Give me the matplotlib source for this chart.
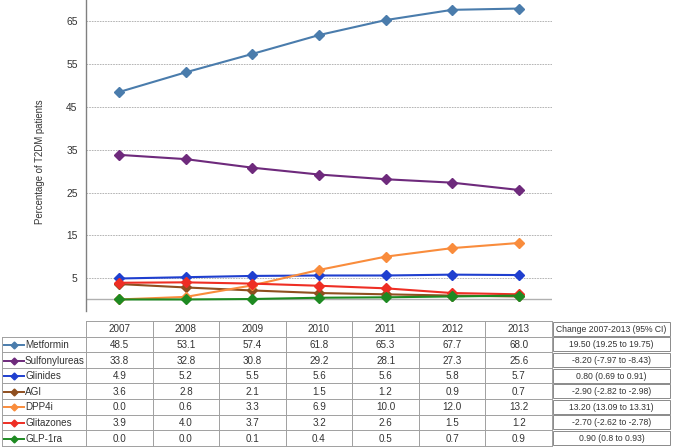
import numpy as np
import matplotlib.pyplot as plt

plt.rcParams['font.family'] = ['Liberation Sans', 'DejaVu Sans']

# ----------------------------
# Data
# ----------------------------
years = ["2007", "2008", "2009", "2010", "2011", "2012", "2013"]
drugs = ["Metformin", "Sulfonylureas", "Glinides", "AGI", "DPP4i", "Glitazones", "GLP-1ra"]

metformin = [48.5, 53.1, 57.4, 61.8, 65.3, 67.7, 68.0]
sulfonylureas = [33.8, 32.8, 30.8, 29.2, 28.1, 27.3, 25.6]
glinides = [4.9, 5.2, 5.5, 5.6, 5.6, 5.8, 5.7]
agi = [3.6, 2.8, 2.1, 1.5, 1.2, 0.9, 0.7]
dpp4i = [0.0, 0.6, 3.3, 6.9, 10.0, 12.0, 13.2]
glitazones = [3.9, 4.0, 3.7, 3.2, 2.6, 1.5, 1.2]
glp1ra = [0.0, 0.0, 0.1, 0.4, 0.5, 0.7, 0.9]

changes = ["19.50 (19.25 to 19.75)", "-8.20 (-7.97 to -8.43)", "0.80 (0.69 to 0.91)",
           "-2.90 (-2.82 to -2.98)", "13.20 (13.09 to 13.31)", "-2.70 (-2.62 to -2.78)",
           "0.90 (0.8 to 0.93)"]
change_header = "Change 2007-2013 (95% CI)"

yticks = [5, 15, 25, 35, 45, 55, 65]

series = [metformin, sulfonylureas, glinides, agi, dpp4i, glitazones, glp1ra]
colors = ["#4a7cac", "#6e2a7c", "#1f3fcf", "#8f4f1f", "#f98c3c", "#ee2e24", "#1e8a22"]

W, H = 677, 447

# ----------------------------
# Plot
# ----------------------------
fig = plt.figure(figsize=(W / 100, H / 100), dpi=100)

left, right, top, bottom = 86, 552, 0, 311
ax = fig.add_axes([left / W, 1 - bottom / H, (right - left) / W, (bottom - top) / H])

x = np.arange(len(years))
for vals, c in zip(series, colors):
    ax.plot(x, vals, color=c, lw=1.5, marker="D", ms=5.5, mec=c, zorder=3)

ax.set_xlim(-0.5, len(years) - 0.5)
ax.set_ylim(-2.7, 70)
ax.set_yticks(yticks)
ax.set_yticklabels([str(t) for t in yticks], fontsize=7.4, color="#333333")
ax.tick_params(axis="y", length=0, pad=6)
ax.set_xticks([])
for t in yticks:
    ax.axhline(t, color="#a8a8a8", lw=0.6, ls=(0, (2, 1.2)), zorder=1)
ax.axhline(0, color="#b0b0b0", lw=1.0, zorder=1)
for s in ["top", "right", "bottom"]:
    ax.spines[s].set_visible(False)
ax.spines["left"].set_color("#808080")
ax.spines["left"].set_linewidth(1.0)

fig.text(40 / W, 1 - 162 / H, "Percentage of T2DM patients", rotation=90,
         ha="center", va="center", fontsize=6.9, color="#333333")

# ----------------------------
# Table
# ----------------------------
tab = fig.add_axes([0, 0, 1, 1])
tab.set_xlim(0, W)
tab.set_ylim(H, 0)
tab.axis("off")

col_w = (right - left) / len(years)
row_h = 15.6
head_top = 321
head_bot = head_top + row_h
grid_c = "#a0a0a0"
txt_c = "#333333"
fs = 7.1

# header row
tab.plot([left, right], [head_top, head_top], color=grid_c, lw=0.7)
for i, yr in enumerate(years):
    tab.text(left + (i + 0.5) * col_w, head_top + row_h / 2 + 0.5, yr,
             ha="center", va="center", fontsize=fs, color=txt_c)
for i in range(len(years) + 1):
    xx = left + i * col_w
    tab.plot([xx, xx], [head_top, head_bot + row_h * len(drugs)], color=grid_c, lw=0.7)

# body rows
for r, (name, vals, c) in enumerate(zip(drugs, series, colors)):
    y0 = head_bot + r * row_h
    yc = y0 + row_h / 2 + 0.5
    tab.plot([2, right], [y0, y0], color=grid_c, lw=0.7)
    tab.plot([4, 24], [yc, yc], color=c, lw=1.4)
    tab.plot([14], [yc], marker="D", ms=3.5, color=c)
    tab.text(25, yc, name, ha="left", va="center", fontsize=fs, color=txt_c)
    for i, v in enumerate(vals):
        tab.text(left + (i + 0.5) * col_w, yc, f"{v:.1f}",
                 ha="center", va="center", fontsize=fs, color=txt_c)
tab.plot([2, right], [head_bot + row_h * len(drugs)] * 2, color=grid_c, lw=0.7)
tab.plot([2, 2], [head_bot, head_bot + row_h * len(drugs)], color=grid_c, lw=0.7)

# change column (separate boxes)
cx0, cx1 = 553, 670
labels = [change_header] + changes
for r, lab in enumerate(labels):
    y0 = head_top + r * row_h + 0.8
    y1 = y0 + row_h - 1.6
    tab.add_patch(plt.Rectangle((cx0, y0), cx1 - cx0, y1 - y0, fill=False,
                                ec="#8a8a8a", lw=0.7))
    tab.text((cx0 + cx1) / 2, (y0 + y1) / 2 + 0.5, lab, ha="center", va="center",
             fontsize=6.2, color=txt_c)

fig.savefig("out.png", dpi=100)
